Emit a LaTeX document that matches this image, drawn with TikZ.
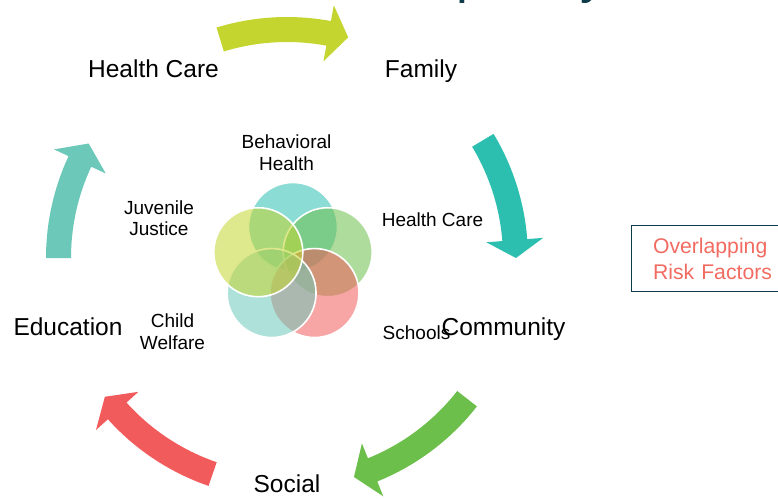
\documentclass[tikz,border=0pt]{standalone}
\usepackage{fontspec}
\setmainfont{Liberation Sans}

\definecolor{limegreen}{HTML}{C3D52E}
\definecolor{deepteal}{HTML}{2CBFB0}
\definecolor{leafgreen}{HTML}{6CBF4A}
\definecolor{coral}{HTML}{F15B5B}
\definecolor{mint}{HTML}{6CC9B9}
\definecolor{inkblue}{HTML}{0D3B4C}
\definecolor{salmon}{HTML}{F26B61}

% curved block arrow on the cycle: colour, start angle, head base angle, tip angle
\newcommand{\cyclearrow}[4]{%
  \fill[#1] (#2:216) arc[start angle=#2, end angle=#3, radius=216]
    -- (#3:200) -- (#4:229) -- (#3:257) -- (#3:241)
    arc[start angle=#3, end angle=#2, radius=241] -- cycle;}

\tikzset{
  biglabel/.style={font=\fontsize{24.5}{28}\selectfont, anchor=base, inner sep=0pt},
  smalllabel/.style={font=\fontsize{19}{21.5}\selectfont, align=center, inner sep=0pt},
  vennring/.style={draw=white, line width=1.6pt, fill opacity=0.55},
  riskbox/.style={draw=inkblue, line width=1pt, text=salmon,
    font=\fontsize{21.2}{26}\selectfont, align=left, text width=150pt,
    inner xsep=21.5pt, inner ysep=0pt, minimum height=66pt},
  headline/.style={font=\fontsize{53}{60}\selectfont, text=inkblue, anchor=base, inner sep=0pt}
}

\begin{document}
\begin{tikzpicture}[x=1pt,y=1pt]
\useasboundingbox (0,0) rectangle (778,-499);
\clip (0,0) rectangle (778,-499);

% heading, mostly above the page edge
\node[headline] (heading) at (476,8) {Complexity};

% the five cycle arrows
\begin{scope}[shift={(287,-258)}]
  \cyclearrow{limegreen}{107}{79.5}{74.5}
  \cyclearrow{deepteal}{31}{4.5}{0}
  \cyclearrow{leafgreen}{-38}{-68}{-73}
  \cyclearrow{coral}{-109}{-138}{-142.7}
  \cyclearrow{mint}{180}{155}{150}
\end{scope}

% cycle labels
\node[biglabel] (hc)  at (153.5,-77) {Health Care};
\node[biglabel] (fam) at (421,-77) {Family};
\node[biglabel] (com) at (503.5,-335) {Community};
\node[biglabel] (soc) at (287,-492) {Social};
\node[biglabel] (edu) at (68,-335) {Education};

% overlapping circles
\begin{scope}[shift={(293,-263.5)}]
  \foreach \a/\c in {90/deepteal, 18/leafgreen, -54/coral, -126/mint, 162/limegreen}
    \draw[vennring, fill=\c] (\a:36.5) circle[radius=44.5];
\end{scope}

% circle labels
\node[smalllabel] (bh) at (286.5,-152.5) {Behavioral\\Health};
\node[smalllabel] (jj) at (159,-218) {Juvenile\\Justice};
\node[smalllabel, anchor=base] (hcs) at (432.5,-226) {Health Care};
\node[smalllabel, anchor=base] (sch) at (416.5,-339) {Schools};
\node[smalllabel] (cw) at (172.5,-331.5) {Child\\Welfare};

% side note
\node[riskbox, anchor=north west] (risk) at (631,-225) {Overlapping\\Risk Factors};
\end{tikzpicture}
\end{document}
